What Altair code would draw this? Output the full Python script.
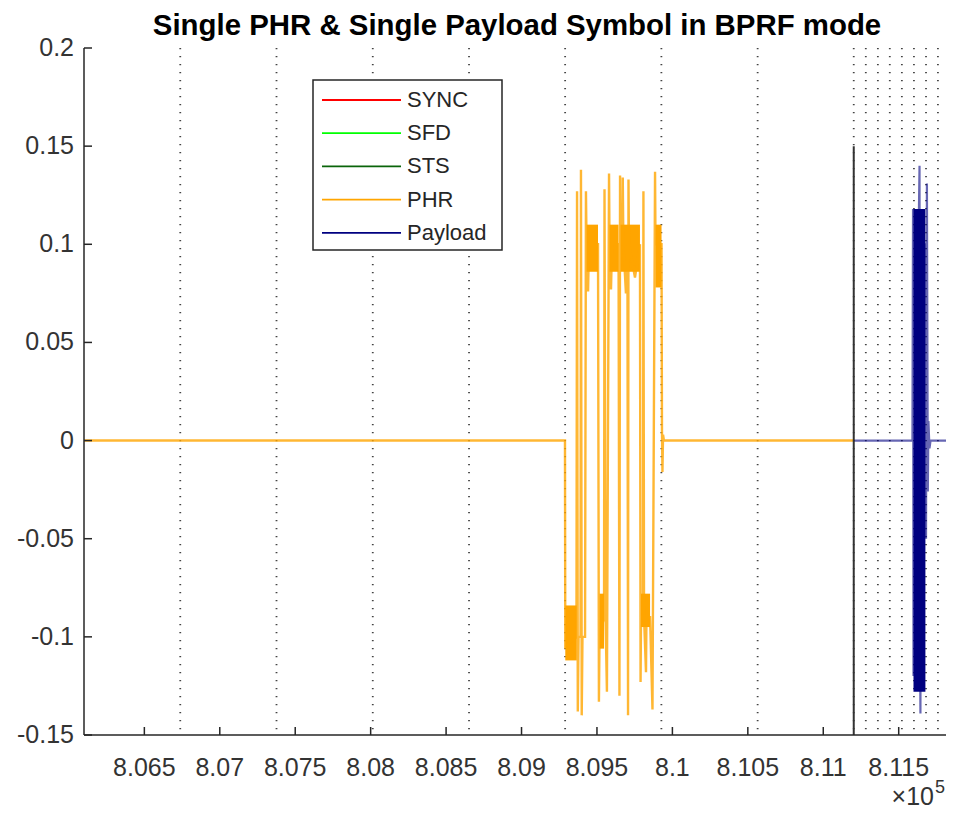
import altair as alt
import pandas as pd

# ---------------- data ----------------
TITLE = "Single PHR & Single Payload Symbol in BPRF mode"
X_DOMAIN = [806100, 811840]
Y_DOMAIN = [-0.15, 0.2]
x_ticks = [806500, 807000, 807500, 808000, 808500, 809000, 809500,
           810000, 810500, 811000, 811500]
y_ticks = [-0.15, -0.1, -0.05, 0, 0.05, 0.1, 0.15, 0.2]

# dotted symbol boundaries and chip boundaries inside payload symbol
symbol_bounds = [806738, 807376, 808014, 808652, 809289, 809927, 810565, 811202]
chip_bounds = [811282, 811362, 811441, 811521, 811601, 811681, 811760]

# solid marker at start of payload
marker_x = [811202]
marker_lo = [-0.15]
marker_hi = [0.15]

# PHR waveform (decimated trace)
phr_x = [806100, 809288, 809290, 809364, 809368, 809373, 809378, 809391, 809394,
         809399, 809404, 809421, 809427, 809431, 809441, 809447, 809507, 809513,
         809517, 809547, 809550, 809557, 809566, 809580, 809583, 809593, 809600,
         809643, 809649, 809653, 809656, 809669, 809671, 809675, 809692, 809702,
         809706, 809709, 809712, 809752, 809785, 809789, 809792, 809805, 809808,
         809812, 809825, 809828, 809852, 809868, 809885, 809888, 809928, 809931,
         809934, 809938, 809944, 811202]
phr_y = [0, 0, -0.105, -0.1, 0.127, -0.138, -0.1, -0.1, 0.138,
         -0.14, -0.1, -0.1, 0.127, 0.1, 0.076, 0.1, 0.1, -0.133,
         -0.1, -0.09, 0.128, -0.09, -0.128, 0.136, 0.1, 0.077, 0.1,
         0.1, -0.13, 0.135, 0.1, 0.1, 0.134, 0.1, 0.075, 0.1,
         -0.14, 0.133, 0.1, 0.083, 0.1, -0.123, -0.09, -0.09, 0.127,
         -0.09, -0.118, -0.09, -0.09, -0.137, 0.137, 0.1, 0.1, 0.005,
         -0.016, 0.003, 0, 0]
# dense oscillation envelopes of PHR
phr_band_x0 = [809290, 809431, 809517, 809583, 809656, 809792, 809888]
phr_band_x1 = [809366, 809507, 809547, 809643, 809785, 809852, 809928]
phr_band_lo = [-0.112, 0.086, -0.106, 0.086, 0.086, -0.095, 0.078]
phr_band_hi = [-0.084, 0.11, -0.078, 0.11, 0.11, -0.078, 0.11]

# Payload waveform
pay_x = [811202, 811591, 811595, 811598, 811601, 811631, 811638, 811641, 811644,
         811648, 811674, 811677, 811681, 811687, 811693, 811697, 811704, 811711, 811840]
pay_y = [0, 0, 0.118, -0.12, 0.11, 0.1, 0.14, -0.1, -0.139,
         0.1, 0.1, 0.1, -0.05, 0.131, -0.026, 0.01, -0.004, 0, 0]
pay_band_x0 = [811598]
pay_band_x1 = [811677]
pay_band_lo = [-0.128]
pay_band_hi = [0.118]

legend_labels = ["SYNC", "SFD", "STS", "PHR", "Payload"]
legend_colors = ["#FF0000", "#00FF00", "#0A640A", "#FFA500", "#000080"]

# ---------------- layout ----------------
W, H = 862, 687          # view size (page width limit)
XR = 866                 # x scale range (axis runs to the page edge)
FONT = "Liberation Sans"
AX = "#262626"
LBL = "#333333"
PHR_C = "#FFA500"
PAY_C = "#000080"

xs = alt.Scale(domain=X_DOMAIN, range=[0, XR], nice=False, zero=False)
ys = alt.Scale(domain=Y_DOMAIN, nice=False, zero=False)

one = pd.DataFrame({"k": [0]})

# axis lines (MATLAB box off: only left and bottom)
y_axis_line = alt.Chart(one).mark_rule(color=AX, strokeWidth=1.5).encode(
    x=alt.value(0), y=alt.value(0), y2=alt.value(H))
x_axis_line = alt.Chart(one).mark_rule(color=AX, strokeWidth=1.5).encode(
    x=alt.value(0), x2=alt.value(XR), y=alt.value(H))

# tick labels
x_lab = alt.Chart(pd.DataFrame({"v": x_ticks})).transform_calculate(
    lab="'' + (datum.v / 100000)"
).mark_text(font=FONT, fontSize=25, color=LBL, align="center",
            baseline="alphabetic").encode(
    x=alt.X("v:Q", scale=xs, axis=None), y=alt.value(H + 41), text="lab:N")
y_lab = alt.Chart(pd.DataFrame({"v": y_ticks})).transform_calculate(
    lab="'' + datum.v"
).mark_text(font=FONT, fontSize=25, color=LBL, align="right",
            baseline="middle").encode(
    y=alt.Y("v:Q", scale=ys, axis=None), x=alt.value(-10), text="lab:N")

# inward ticks (MATLAB style)
xt = alt.Chart(pd.DataFrame({"x": x_ticks})).mark_rule(color=AX, strokeWidth=1.5).encode(
    x=alt.X("x:Q", scale=xs, axis=None), y=alt.value(H), y2=alt.value(H - 8))
yt = alt.Chart(pd.DataFrame({"y": y_ticks})).mark_rule(color=AX, strokeWidth=1.5).encode(
    y=alt.Y("y:Q", scale=ys, axis=None), x=alt.value(0), x2=alt.value(8))

bounds_df = pd.DataFrame({"x": symbol_bounds + chip_bounds})
dotted = alt.Chart(bounds_df).mark_rule(
    color="#444444", strokeWidth=1.8, strokeDash=[1.2, 6.8]
).encode(
    x=alt.X("x:Q", scale=xs, axis=None),
    y=alt.value(0), y2=alt.value(H),
)

phr_band_df = pd.DataFrame({"x0": phr_band_x0, "x1": phr_band_x1,
                            "lo": phr_band_lo, "hi": phr_band_hi})
phr_band = alt.Chart(phr_band_df).mark_rect(color=PHR_C).encode(
    x=alt.X("x0:Q", scale=xs, axis=None), x2="x1:Q",
    y=alt.Y("lo:Q", scale=ys, axis=None), y2="hi:Q",
)

phr_df = pd.DataFrame({"x": phr_x, "y": phr_y, "i": list(range(len(phr_x)))})
phr_line = alt.Chart(phr_df).mark_line(color=PHR_C, strokeWidth=2.4, opacity=0.8).encode(
    x=alt.X("x:Q", scale=xs, axis=None),
    y=alt.Y("y:Q", scale=ys, axis=None),
    order="i:Q",
)

marker_df = pd.DataFrame({"x": marker_x, "lo": marker_lo, "hi": marker_hi})
marker = alt.Chart(marker_df).mark_rule(color="#333333", strokeWidth=2).encode(
    x=alt.X("x:Q", scale=xs, axis=None),
    y=alt.Y("lo:Q", scale=ys, axis=None), y2="hi:Q",
)

pay_band_df = pd.DataFrame({"x0": pay_band_x0, "x1": pay_band_x1,
                            "lo": pay_band_lo, "hi": pay_band_hi})
pay_band = alt.Chart(pay_band_df).mark_rect(color=PAY_C).encode(
    x=alt.X("x0:Q", scale=xs, axis=None), x2="x1:Q",
    y=alt.Y("lo:Q", scale=ys, axis=None), y2="hi:Q",
)

pay_df = pd.DataFrame({"x": pay_x, "y": pay_y, "i": list(range(len(pay_x)))})
pay_line = alt.Chart(pay_df).mark_line(color=PAY_C, strokeWidth=2.2, opacity=0.6).encode(
    x=alt.X("x:Q", scale=xs, axis=None),
    y=alt.Y("y:Q", scale=ys, axis=None),
    order="i:Q",
)

# legend
LX0, LX1, LY0, LY1 = 229, 418, 32, 202
ROW0, ROWD = 52, 33.2
leg_df = pd.DataFrame({"label": legend_labels, "color": legend_colors})
leg_df["ly"] = [ROW0 + i * ROWD for i in range(len(leg_df))]
leg_box = alt.Chart(one).mark_rect(fill="white", stroke=AX, strokeWidth=1.5).encode(
    x=alt.value(LX0), x2=alt.value(LX1), y=alt.value(LY0), y2=alt.value(LY1))
leg_lines = alt.Chart(leg_df).mark_rule(strokeWidth=1.8).encode(
    x=alt.value(LX0 + 9), x2=alt.value(LX0 + 88),
    y=alt.Y("ly:Q", scale=None),
    color=alt.Color("color:N", scale=None),
)
leg_text = alt.Chart(leg_df).mark_text(
    align="left", baseline="middle", font=FONT, fontSize=22, color=AX
).encode(x=alt.value(LX0 + 94), y=alt.Y("ly:Q", scale=None), text="label:N")

title = alt.Chart(one).mark_text(
    text=TITLE, font=FONT, fontSize=29.4, fontWeight="bold", color="black",
    align="center", baseline="alphabetic"
).encode(x=alt.value(XR / 2), y=alt.value(-13))

exp_base = alt.Chart(one).mark_text(
    text="\u00d710", font=FONT, fontSize=25, color=LBL,
    align="right", baseline="alphabetic"
).encode(x=alt.value(850), y=alt.value(H + 70))
exp_sup = alt.Chart(one).mark_text(
    text="5", font=FONT, fontSize=18, color=LBL,
    align="left", baseline="alphabetic"
).encode(x=alt.value(851), y=alt.value(H + 58))

chart = alt.layer(
    dotted, phr_band, phr_line, pay_band, pay_line, marker,
    y_axis_line, x_axis_line, xt, yt, x_lab, y_lab,
    leg_box, leg_lines, leg_text, title, exp_base, exp_sup
).properties(
    width=W, height=H,
    autosize=alt.AutoSizeParams(type="none"),
    padding={"left": 76, "top": 40, "right": 0, "bottom": 77},
).configure(background="white").configure_view(stroke=None, clip=False)

chart.save("out.html", embed_options={"renderer": "svg", "actions": False})
